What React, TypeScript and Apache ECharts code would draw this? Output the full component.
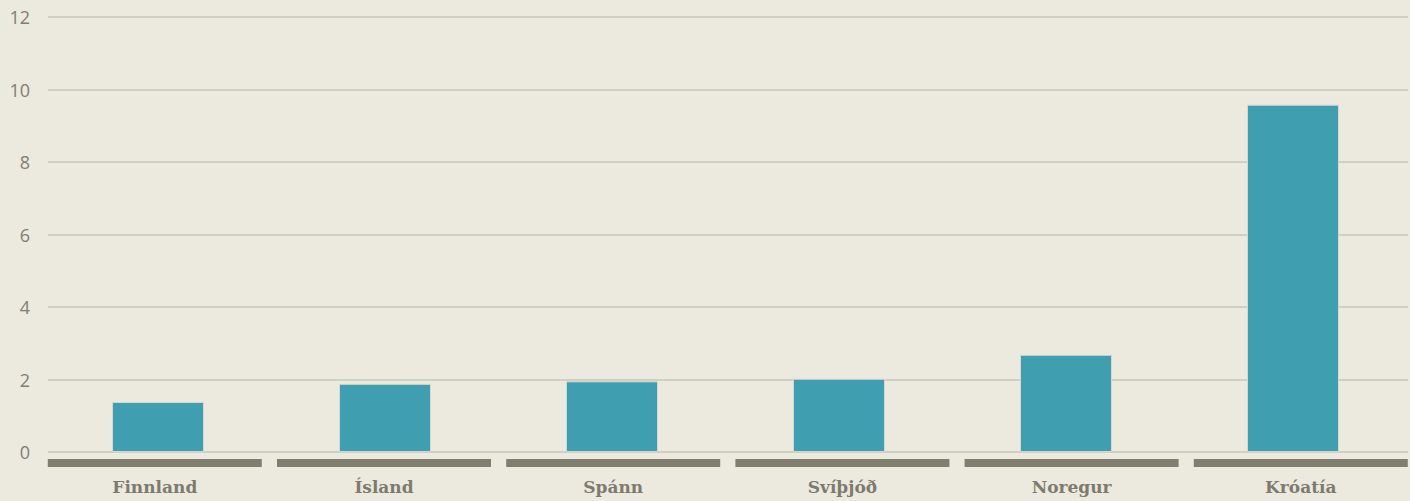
import React, { useEffect, useRef } from "react";
import * as echarts from "echarts";

const categories = ["Finnland", "Ísland", "Spánn", "Svíþjóð", "Noregur", "Króatía"];
const values = [1.38, 1.88, 1.95, 2.02, 2.68, 9.58];
const baseSegments = [1, 1, 1, 1, 1, 1];
const yTicks = { min: 0, max: 12, interval: 2 };

export default function App() {
  const ref = useRef<HTMLDivElement>(null);
  useEffect(() => {
    document.body.style.margin = "0";
    document.body.style.overflow = "hidden";
    if (!ref.current) return;
    const chart = echarts.init(ref.current, undefined, { renderer: "svg" });
    chart.setOption({
      animation: false,
      backgroundColor: "#ece9de",
      grid: [
        { left: 48, right: 2, top: 17, bottom: 49 },
        { left: 40.2, width: 1375.2, top: 459, height: 8, outerBoundsMode: "none" },
        { left: 44.5, right: 3.5, top: 17, bottom: 49 },
      ],
      xAxis: [
        {
          type: "category",
          gridIndex: 0,
          data: categories,
          show: false,
        },
        {
          type: "category",
          gridIndex: 1,
          data: categories,
          axisLine: { show: false },
          axisTick: { show: false },
          axisLabel: {
            margin: 11,
            color: "#7d7b6f",
            fontFamily: "DejaVu Serif",
            fontWeight: "bold",
            fontSize: 17,
          },
        },
        {
          type: "category",
          gridIndex: 2,
          data: categories,
          show: false,
        },
      ],
      yAxis: [
        {
          type: "value",
          gridIndex: 0,
          min: yTicks.min,
          max: yTicks.max,
          interval: yTicks.interval,
          axisLine: { show: false },
          axisTick: { show: false },
          axisLabel: {
            margin: 18,
            color: "#807e73",
            fontFamily: "Open Sans",
            fontSize: 18,
          },
          splitLine: { lineStyle: { color: "#c9c6ba", width: 1.5 } },
        },
        {
          type: "value",
          gridIndex: 1,
          min: 0,
          max: 1,
          show: false,
        },
        {
          type: "value",
          gridIndex: 2,
          min: yTicks.min,
          max: yTicks.max,
          show: false,
        },
      ],
      series: [
        {
          type: "bar",
          xAxisIndex: 2,
          yAxisIndex: 2,
          data: values,
          barWidth: 92,
          itemStyle: { color: "#409eb1", borderColor: "#d6d8cf", borderWidth: 1 },
        },
        {
          type: "bar",
          xAxisIndex: 1,
          yAxisIndex: 1,
          data: baseSegments,
          barWidth: 214,
          itemStyle: { color: "#807e6e" },
        },
      ],
    });
    return () => chart.dispose();
  }, []);
  return <div ref={ref} style={{ width: 1410, height: 501 }} />;
}
